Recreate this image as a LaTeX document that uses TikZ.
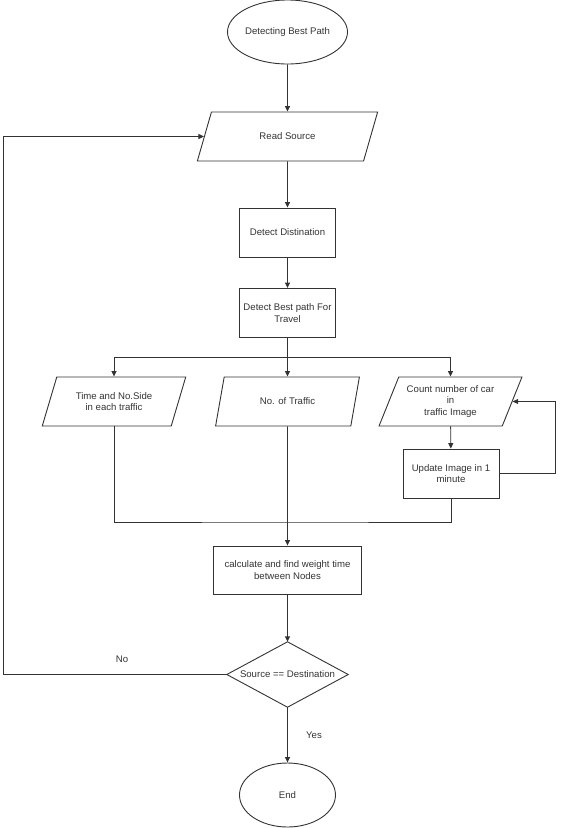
\documentclass[tikz,border=0pt]{standalone}
\usepackage{fontspec}
\setmainfont{Liberation Sans}
\usetikzlibrary{shapes.geometric,arrows.meta}
\definecolor{lc}{HTML}{333333}
\begin{document}
\begin{tikzpicture}[x=1pt,y=-1pt,
  every node/.style={font=\fontsize{9.6}{11.2}\selectfont, text=lc, align=center},
  lnk/.style={draw=lc, line width=0.9pt},
  arr/.style={lnk, -{Triangle[length=5.5pt,width=5pt]}},
  term/.style={lnk, ellipse, minimum width=97pt, minimum height=64pt, inner sep=0pt},
  proc/.style={lnk, rectangle, minimum width=96pt, minimum height=49pt, inner sep=0pt},
  io/.style={lnk, trapezium, trapezium stretches=true, inner sep=0pt, minimum height=49pt},
]
\useasboundingbox (0,0) rectangle (562,828);

\node[term] (start) at (287.5,32) {Detecting Best Path};
\node[io, minimum width=181pt, trapezium left angle=53.7, trapezium right angle=126.3] (read) at (287.5,136.5) {Read Source};
\node[proc] (dist) at (287.5,232.5) {Detect Distination};
\node[proc] (best) at (287.5,313) {Detect Best path For\\Travel};

\node[io, minimum width=144pt, trapezium left angle=62, trapezium right angle=118] (tside) at (114,401.5) {Time and No.Side\\in each traffic};
\node[io, minimum width=144pt, trapezium left angle=62, trapezium right angle=118] (ntraf) at (287.5,401.5) {No. of Traffic};
\node[io, minimum width=143pt, trapezium left angle=62, trapezium right angle=118] (count) at (450.5,401.5) {Count number of car\\in\\traffic Image};
\node[proc] (upd) at (451,473.5) {Update Image in 1\\minute};

\node[proc, minimum width=148pt, minimum height=48pt] (calc) at (287.5,570) {calculate and find weight time\\between Nodes};

\node[draw=none, minimum width=121pt, minimum height=65pt, inner sep=0pt] (dia) at (287.5,674.5) {Source == Destination};
\draw[lnk] (dia.north) -- (dia.east) -- (dia.south) -- (dia.west) -- cycle;

\node[term, minimum width=96pt] (end) at (287.5,795) {End};

\node (nolbl) at (122,659) {No};
\node (yeslbl) at (314,735) {Yes};

\coordinate (br) at (287.5,357);
\coordinate (mg) at (287.5,522);
\coordinate (lp) at (555,473.5);
\coordinate (fb) at (3,674.5);

\draw[arr] (start) -- (read);
\draw[arr] (read) -- (dist);
\draw[arr] (dist) -- (best);
\draw[arr] (best) -- (ntraf);
\draw[arr] (br) -| (tside.north);
\draw[arr] (br) -| (count.north);
\draw[lnk] (tside.south) |- (mg) -| (upd.south);
\draw[arr] (ntraf) -- (calc);
\draw[arr] (count) -- (upd);
\draw[arr] (upd.east) -- (lp) |- (count.east);
\draw[arr] (calc) -- (dia.north);
\draw[arr] (dia.south) -- (end);
\draw[arr] (dia.west) -- (fb) |- (read.west);
\end{tikzpicture}
\end{document}
